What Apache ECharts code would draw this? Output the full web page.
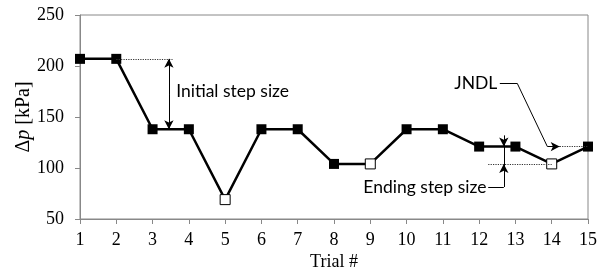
<!DOCTYPE html>
<html>
<head>
<meta charset="utf-8">
<script src="https://cdn.jsdelivr.net/npm/echarts@6/dist/echarts.min.js"></script>
<style>
  html, body { margin: 0; padding: 0; background: #fff; }
  #main { width: 598px; height: 271px; }
</style>
</head>
<body>
<div id="main"></div>
<script>
// trial number and pressure step values
var trials = [1, 2, 3, 4, 5, 6, 7, 8, 9, 10, 11, 12, 13, 14, 15];
var pressure = [207, 207, 138, 138, 69, 138, 138, 104, 104, 138, 138, 121, 121, 104, 121];
// trials drawn with open (white) markers
var openTrials = [5, 9, 14];
var yTicks = [50, 100, 150, 200, 250];

// annotation anchors, in data units
var initialStep = { x: 3.45, top: 207, bottom: 138, dotEnd: 3.55, textY: 175.5 };
var endingStep = { x: 12.68, top: 132, upper: 121, lower: 104, bottom: 81.5, dotStart: 12.25, textX: 12.2 };
var jndl = { textX: 12.5, textY: 183, bendX: 13.05, footX: 13.88, tipX: 14.22, y: 121 };

var serif = "Liberation Serif";
var sans = "Lato";

var seriesData = trials.map(function (t, i) {
	var open = openTrials.indexOf(t) >= 0;
	return {
		value: [t, pressure[i]],
		itemStyle: { color: open ? "#fff" : "#000", borderColor: "#000", borderWidth: open ? 1 : 0 }
	};
});

var dotted = { color: "#333", type: "dotted", width: 1.2 };
var solid = { color: "#000", type: "solid", width: 1 };

function seg(x1, y1, x2, y2, s1, s2, style) {
	return [
		{ coord: [x1, y1], symbol: s1 || "none", lineStyle: style },
		{ coord: [x2, y2], symbol: s2 || "none", lineStyle: style }
	];
}

var chart = echarts.init(document.getElementById("main"));
var option = {
	animation: false,
	grid: {
		left: 80, right: 10, top: 15, bottom: 52,
		outerBoundsMode: "none", containLabel: false,
		show: true, borderColor: "#888", borderWidth: 1
	},
	xAxis: {
		type: "value", min: 1, max: 15, interval: 1,
		name: "Trial #", nameLocation: "middle", nameGap: 34, nameMoveOverlap: false,
		nameTextStyle: { fontFamily: serif, fontSize: 18, color: "#000" },
		axisLine: { lineStyle: { color: "#888" } },
		axisTick: { show: true, length: 5, lineStyle: { color: "#888" } },
		axisLabel: { fontFamily: serif, fontSize: 18, color: "#000", margin: 12 },
		splitLine: { show: false }
	},
	yAxis: {
		type: "value", min: yTicks[0], max: yTicks[yTicks.length - 1], interval: 50,
		name: "{a|Δ}{b|p}{a| [kPa]}", nameLocation: "middle", nameGap: 46, nameMoveOverlap: false,
		nameTextStyle: {
			rich: {
				a: { fontFamily: serif, fontSize: 20, color: "#000" },
				b: { fontFamily: serif, fontSize: 20, color: "#000", fontStyle: "italic" }
			}
		},
		axisLine: { show: true, lineStyle: { color: "#888" } },
		axisTick: { show: true, length: 5, lineStyle: { color: "#888" } },
		axisLabel: { fontFamily: serif, fontSize: 18, color: "#000", margin: 16 },
		splitLine: { show: false }
	},
	series: [
		{
			type: "line",
			data: seriesData,
			symbol: "rect",
			symbolSize: 10,
			lineStyle: { color: "#000", width: 2.5 },
			z: 3,
			markLine: {
				silent: true,
				symbolSize: [7, 9],
				label: { show: false },
				emphasis: { disabled: true },
				data: [
					// initial step size
					seg(2, initialStep.top, initialStep.dotEnd, initialStep.top, null, null, dotted),
					seg(initialStep.x, (initialStep.top + initialStep.bottom) / 2, initialStep.x, initialStep.top, null, "arrow", solid),
					seg(initialStep.x, (initialStep.top + initialStep.bottom) / 2, initialStep.x, initialStep.bottom, null, "arrow", solid),
					// ending step size
					seg(endingStep.dotStart, endingStep.lower, 14, endingStep.lower, null, null, dotted),
					seg(endingStep.x, endingStep.top, endingStep.x, endingStep.upper, null, "arrow", solid),
					seg(endingStep.x, endingStep.upper, endingStep.x, endingStep.bottom, null, null, solid),
					seg(endingStep.x, endingStep.bottom, endingStep.x, endingStep.lower, null, "arrow", solid),
					seg(endingStep.textX + 0.05, endingStep.bottom, endingStep.x, endingStep.bottom, null, null, solid),
					// JNDL leader
					seg(jndl.textX + 0.07, jndl.textY, jndl.bendX, jndl.textY, null, null, solid),
					seg(jndl.bendX, jndl.textY, jndl.footX, jndl.y, null, null, solid),
					seg(jndl.footX, jndl.y, jndl.tipX, jndl.y, null, "arrow", solid),
					seg(jndl.tipX, jndl.y, 15, jndl.y, null, null, dotted)
				]
			},
			markPoint: {
				silent: true,
				symbol: "circle",
				symbolSize: 0,
				data: [
					{
						coord: [initialStep.x + 0.2, initialStep.textY],
						label: { show: true, formatter: "Initial step size", position: "right", distance: 0, fontFamily: sans, fontSize: 17.5, color: "#000" }
					},
					{
						coord: [endingStep.textX, endingStep.bottom],
						label: { show: true, formatter: "Ending step size", position: "left", distance: 0, fontFamily: sans, fontSize: 17.5, color: "#000" }
					},
					{
						coord: [jndl.textX, jndl.textY],
						label: { show: true, formatter: "JNDL", position: "left", distance: 0, fontFamily: sans, fontSize: 17.5, color: "#000" }
					}
				]
			}
		}
	]
};
chart.setOption(option);
</script>
</body>
</html>
